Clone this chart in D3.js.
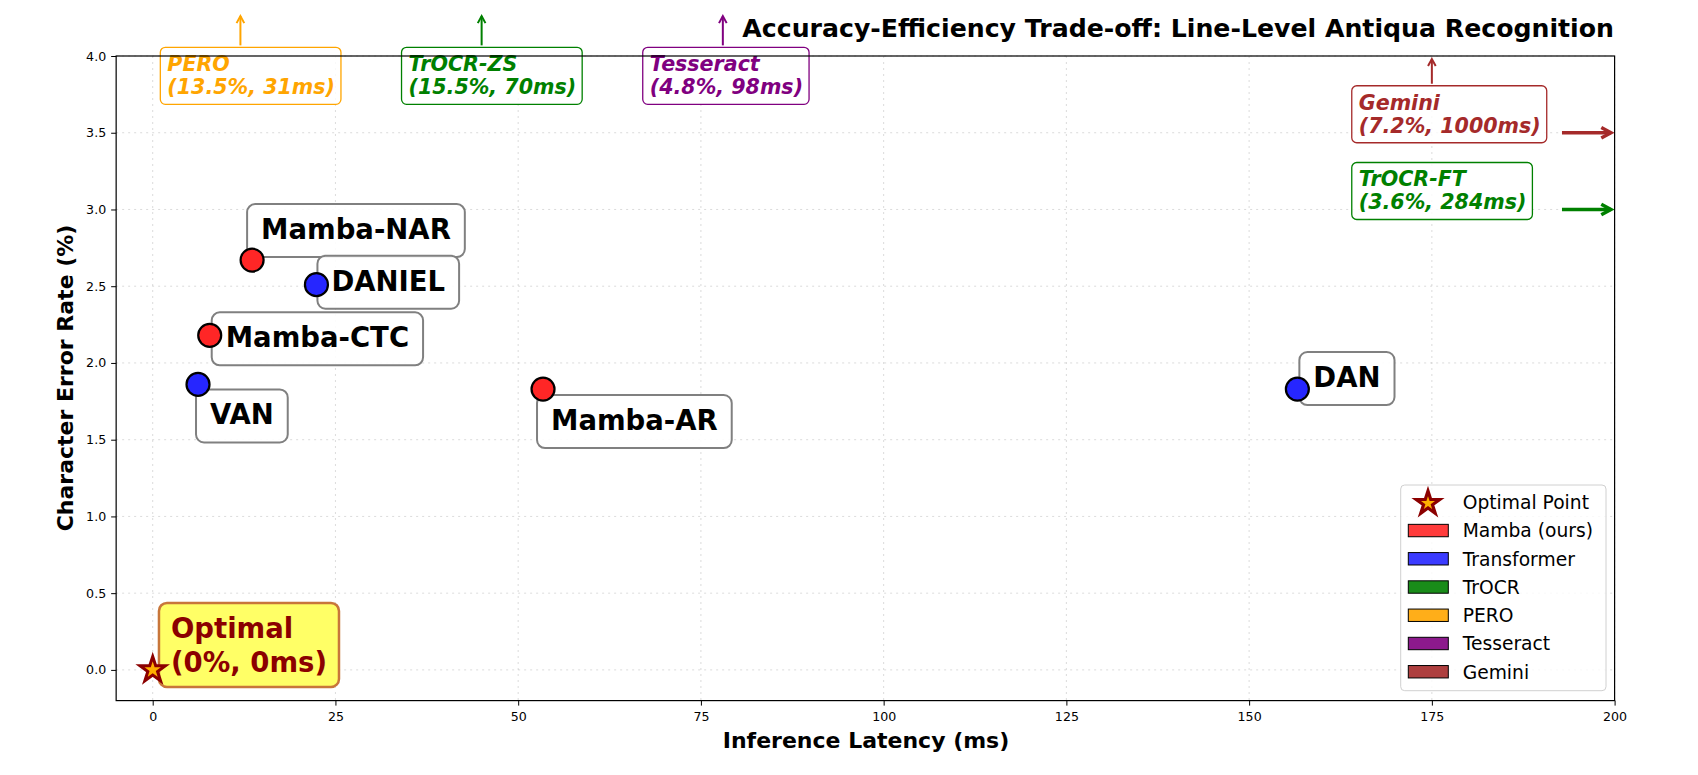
<!DOCTYPE html>
<html>
<head>
<meta charset="utf-8">
<script src="https://cdn.jsdelivr.net/npm/d3@7"></script>
<style>
  body { margin: 0; background: #fff; }
  text { font-family: "DejaVu Sans", sans-serif; }
</style>
</head>
<body>
<div id="chart"></div>
<script>
// models that fit inside the plot
var models  = ["Mamba-NAR", "DANIEL", "Mamba-CTC", "VAN", "Mamba-AR", "DAN"];
var latency = [13.6, 22.4, 7.8, 6.2, 53.4, 156.6];
var cer     = [2.67, 2.51, 2.18, 1.86, 1.83, 1.83];
var family  = ["Mamba", "Transformer", "Mamba", "Transformer", "Mamba", "Transformer"];

// models outside the plot range (shown with arrows)
var farNames   = ["PERO", "TrOCR-ZS", "Tesseract", "Gemini", "TrOCR-FT"];
var farCer     = [13.5, 15.5, 4.8, 7.2, 3.6];
var farLatency = [31, 70, 98, 1000, 284];
var farFamily  = ["PERO", "TrOCR", "Tesseract", "Gemini", "TrOCR"];

var legendNames = ["Mamba (ours)", "Transformer", "TrOCR", "PERO", "Tesseract", "Gemini"];
var legendKeys  = ["Mamba", "Transformer", "TrOCR", "PERO", "Tesseract", "Gemini"];
var xTicks = [0, 25, 50, 75, 100, 125, 150, 175, 200];
var yTicks = [0, 0.5, 1, 1.5, 2, 2.5, 3, 3.5, 4];

var colors = {
    Mamba: "#ff2626", Transformer: "#2626ff", TrOCR: "#008000",
    PERO: "#ffa500", Tesseract: "#800080", Gemini: "#a52a2a"
};

// label placement (pixel offsets from the point)
var labelOffset = [[9, -21], [15, 6], [16, 12], [12, 40], [8, 41], [16, -2]];
// where the arrows of the off-chart models go (data units)
var farLayout = [
    {tx: 2,   ty: 3.75, up: 12,  upTip: 4.26},
    {tx: 35,  ty: 3.75, up: 45,  upTip: 4.26},
    {tx: 68,  ty: 3.75, up: 78,  upTip: 4.26},
    {tx: 165, ty: 3.5,  up: 175, upTip: 3.98, right: 3.5},
    {tx: 165, ty: 3.0,  right: 3.0}
];

var W = 1698, H = 775;
var svg = d3.select("#chart").append("svg")
    .attr("width", W)
    .attr("height", H);

var x = d3.scaleLinear().domain([-5, 200]).range([116.15, 1614.6]);
var y = d3.scaleLinear().domain([-0.2, 4.0]).range([700.6, 56]);

// grid
var grid = svg.append("g");
grid.selectAll(".gx").data(xTicks).enter().append("line")
    .attr("x1", function(d) { return x(d); })
    .attr("x2", function(d) { return x(d); })
    .attr("y1", y(4.0)).attr("y2", y(-0.2))
    .style("stroke", "#b0b0b0").style("stroke-opacity", 0.45)
    .style("stroke-dasharray", "2,4");
grid.selectAll(".gy").data(yTicks).enter().append("line")
    .attr("y1", function(d) { return y(d); })
    .attr("y2", function(d) { return y(d); })
    .attr("x1", x(-5)).attr("x2", x(200))
    .style("stroke", "#b0b0b0").style("stroke-opacity", 0.45)
    .style("stroke-dasharray", "2,4");

// model labels with boxes
var labels = svg.append("g");
models.forEach(function(name, i) {
    var px = x(latency[i]) + labelOffset[i][0];
    var py = y(cer[i]) + labelOffset[i][1];
    var g = labels.append("g");
    var rect = g.append("rect");
    var t = g.append("text")
        .attr("x", px).attr("y", py)
        .style("font-size", "27.5px")
        .style("font-weight", "bold")
        .style("fill", "black")
        .text(name);
    var w = t.node().getComputedTextLength();
    rect.attr("x", px - 14).attr("y", py - 35)
        .attr("width", w + 28).attr("height", 53)
        .attr("rx", 8)
        .style("fill", "white").style("fill-opacity", 0.9)
        .style("stroke", "#808080").style("stroke-width", 2);
});

// arrow helper
function arrow(g, x1, y1, x2, y2, color, lw, head) {
    g.append("line")
        .attr("x1", x1).attr("y1", y1).attr("x2", x2).attr("y2", y2)
        .style("stroke", color).style("stroke-width", lw);
    var a = Math.atan2(y2 - y1, x2 - x1);
    var p = [
        [x2 - head * Math.cos(a - 0.5), y2 - head * Math.sin(a - 0.5)],
        [x2, y2],
        [x2 - head * Math.cos(a + 0.5), y2 - head * Math.sin(a + 0.5)]
    ];
    g.append("path")
        .attr("d", d3.line()(p))
        .style("fill", "none").style("stroke", color)
        .style("stroke-width", lw).style("stroke-linejoin", "miter");
}

// off-chart annotations
var far = svg.append("g");
farNames.forEach(function(name, i) {
    var L = farLayout[i];
    var c = colors[farFamily[i]];
    var g = far.append("g");
    var bx = x(L.tx), by2 = y(L.ty), by1 = by2 - 23;
    var rect = g.append("rect");
    var t1 = g.append("text").attr("x", bx).attr("y", by1).text(name);
    var t2 = g.append("text").attr("x", bx).attr("y", by2)
        .text("(" + farCer[i] + "%, " + farLatency[i] + "ms)");
    [t1, t2].forEach(function(t) {
        t.style("font-size", "20.6px").style("font-weight", "bold")
         .style("font-style", "italic").style("fill", c);
    });
    var w = Math.max(t1.node().getComputedTextLength(), t2.node().getComputedTextLength());
    rect.attr("x", bx - 7).attr("y", by1 - 24)
        .attr("width", w + 13).attr("height", by2 - by1 + 34)
        .attr("rx", 5)
        .style("fill", "white").style("fill-opacity", 0.8)
        .style("stroke", c).style("stroke-width", 1.3);
    if (L.up !== undefined) {
        arrow(g, x(L.up), by1 - 26, x(L.up), y(L.upTip), c, 2, 8);
    }
    if (L.right !== undefined) {
        arrow(g, x(192.8), y(L.right), x(199.5), y(L.right), c, 3.5, 11);
    }
});

// optimal point annotation
var opt = svg.append("g");
var ox = x(2.5), oy2 = y(0) + 2, oy1 = oy2 - 34;
var orect = opt.append("rect");
var o1 = opt.append("text").attr("x", ox).attr("y", oy1).text("Optimal");
var o2 = opt.append("text").attr("x", ox).attr("y", oy2).text("(0%, 0ms)");
[o1, o2].forEach(function(t) {
    t.style("font-size", "27.5px").style("font-weight", "bold").style("fill", "#8b0000");
});
var ow = Math.max(o1.node().getComputedTextLength(), o2.node().getComputedTextLength());
orect.attr("x", ox - 12).attr("y", oy1 - 35)
    .attr("width", ow + 24).attr("height", oy2 - oy1 + 50)
    .attr("rx", 8)
    .style("fill", "#ffff66").style("stroke", "#c8763a").style("stroke-width", 2.5);

// points
svg.append("g").selectAll("circle")
    .data(models)
    .enter().append("circle")
    .attr("cx", function(d, i) { return x(latency[i]); })
    .attr("cy", function(d, i) { return y(cer[i]); })
    .attr("r", 11.5)
    .style("fill", function(d, i) { return colors[family[i]]; })
    .style("stroke", "black")
    .style("stroke-width", 2.2);

// optimal star
var star = d3.symbol().type(d3.symbolStar).size(200);
svg.append("path")
    .attr("d", star())
    .attr("transform", "translate(" + x(0) + "," + y(0) + ")")
    .style("fill", "#ffb000").style("stroke", "#8b0000").style("stroke-width", 3)
    .style("stroke-linejoin", "miter");

// frame
svg.append("rect")
    .attr("x", x(-5)).attr("y", y(4.0))
    .attr("width", x(200) - x(-5)).attr("height", y(-0.2) - y(4.0))
    .style("fill", "none").style("stroke", "black").style("stroke-width", 1.2);

// axes
var xAxis = svg.append("g")
    .attr("transform", "translate(0," + y(-0.2) + ")")
    .call(d3.axisBottom(x).tickValues(xTicks).tickSize(5).tickPadding(6).tickSizeOuter(0));
var yAxis = svg.append("g")
    .attr("transform", "translate(" + x(-5) + ",0)")
    .call(d3.axisLeft(y).tickValues(yTicks).tickFormat(d3.format(".1f")).tickSize(5).tickPadding(5).tickSizeOuter(0));
[xAxis, yAxis].forEach(function(a) {
    a.select(".domain").remove();
    a.selectAll("text").style("font-size", "12.6px").style("font-family", "DejaVu Sans").style("fill", "black");
    a.selectAll("line").style("stroke", "black").style("stroke-width", 1);
});

svg.append("text")
    .attr("x", 866).attr("y", 748)
    .attr("text-anchor", "middle")
    .style("font-size", "22px").style("font-weight", "bold")
    .text("Inference Latency (ms)");
svg.append("text")
    .attr("transform", "translate(73,378) rotate(-90)")
    .attr("text-anchor", "middle")
    .style("font-size", "22px").style("font-weight", "bold")
    .text("Character Error Rate (%)");

// title
svg.append("text")
    .attr("x", 1614).attr("y", 37.3)
    .attr("text-anchor", "end")
    .style("font-size", "25.2px").style("font-weight", "bold")
    .text("Accuracy-Efficiency Trade-off: Line-Level Antiqua Recognition");

// legend
var leg = svg.append("g");
leg.append("rect")
    .attr("x", 1400.7).attr("y", 485)
    .attr("width", 205.3).attr("height", 205.7)
    .attr("rx", 4)
    .style("fill", "white").style("fill-opacity", 0.8)
    .style("stroke", "#d0d0d0").style("stroke-width", 1);
var rowY = function(i) { return 502.3 + i * 28.24; };
leg.append("path")
    .attr("d", d3.symbol().type(d3.symbolStar).size(170)())
    .attr("transform", "translate(1428," + (rowY(0) + 1) + ")")
    .style("fill", "#ffb000").style("stroke", "#8b0000").style("stroke-width", 3.2);
leg.append("text")
    .attr("x", 1462.7).attr("y", rowY(0) + 6.8)
    .style("font-size", "18.7px")
    .text("Optimal Point");
legendNames.forEach(function(name, i) {
    leg.append("rect")
        .attr("x", 1408.3).attr("y", rowY(i + 1) - 6.2)
        .attr("width", 40).attr("height", 12.4)
        .style("fill", colors[legendKeys[i]]).style("fill-opacity", 0.9)
        .style("stroke", "black").style("stroke-width", 1);
    leg.append("text")
        .attr("x", 1462.7).attr("y", rowY(i + 1) + 6.8)
        .style("font-size", "18.7px")
        .text(name);
});
</script>
</body>
</html>
